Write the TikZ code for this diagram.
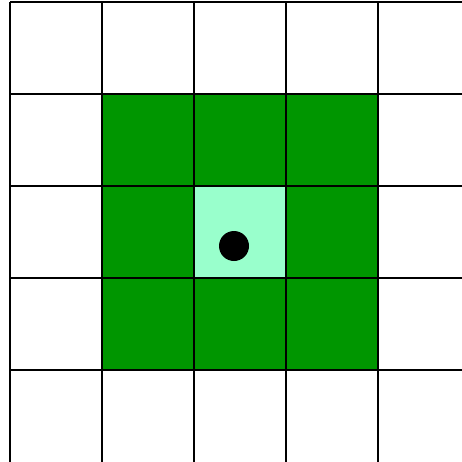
\documentclass[tikz,border=0pt]{standalone}
\definecolor{dgreen}{HTML}{009600}
\definecolor{lgreen}{HTML}{99FFCC}
\begin{document}
\begin{tikzpicture}[x=1pt,y=-1pt,gridline/.style={draw=black,line width=1.3pt}]
\useasboundingbox (0,0) rectangle (462,461);
\clip (0,0) rectangle (462,461);
\fill[dgreen] (102,94) rectangle (378,370);
\fill[lgreen] (194,186) rectangle (286,278);
\foreach \x in {10,102,194,286,378} \draw[gridline] (\x,2) -- (\x,470);
\foreach \y in {2,94,186,278,370} \draw[gridline] (10,\y) -- (470,\y);
\fill[black] (234,246) circle (15);
\end{tikzpicture}
\end{document}
